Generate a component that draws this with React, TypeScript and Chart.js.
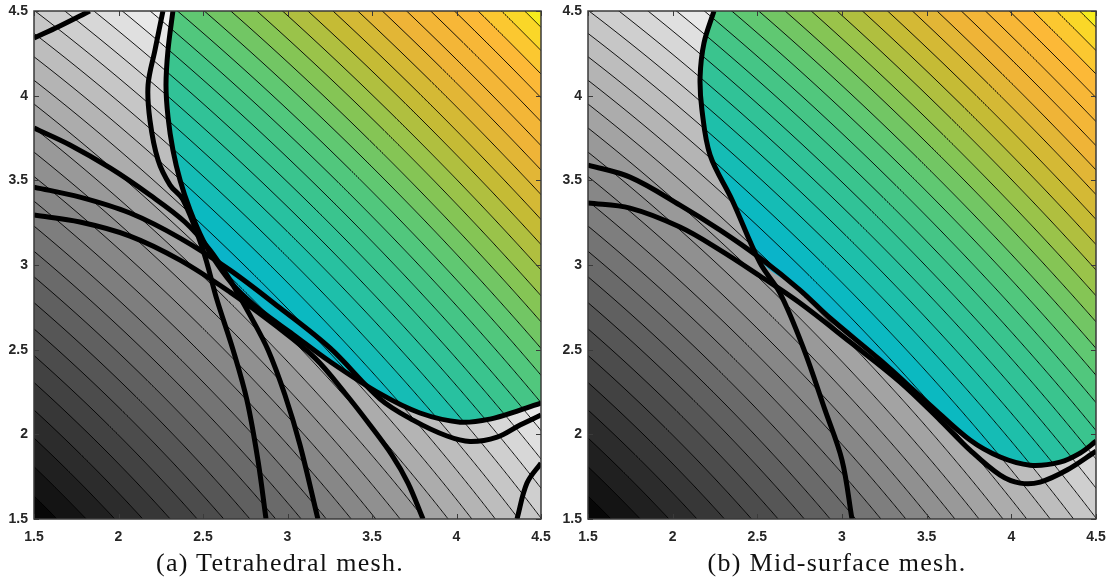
import React, { useEffect, useRef } from "react";
import { Chart, registerables } from "chart.js";

Chart.register(...registerables);

// ---------- axes ----------
const axisMin = 1.5;
const axisMax = 4.5;
const tickValues = [1.5, 2, 2.5, 3, 3.5, 4, 4.5];

// ---------- objective field (filled contours), f = x^p + y^p ----------
const fieldExponent = 1.25;
const fieldMin = 3.32;
const fieldMax = 13.108;
const grayWhiteLevel = 9.544;
const grayGamma = 0.85;
const contourLevels = [
  3.51, 3.758, 4.006, 4.254, 4.502, 4.75, 4.998, 5.246, 5.494, 5.742, 5.99,
  6.238, 6.486, 6.734, 6.982, 7.23, 7.478, 7.726, 7.974, 8.222, 8.47, 8.718,
  8.966, 9.214, 9.462, 9.71, 9.958, 10.206, 10.454, 10.702, 10.95, 11.198,
  11.446, 11.694, 11.942, 12.19, 12.438, 12.686, 12.934,
];
// parula-like colour stops: [t, r, g, b]
const colorStops = [
  [0.0, 53, 42, 135],
  [0.2, 20, 120, 220],
  [0.3, 20, 150, 225],
  [0.36, 16, 168, 216],
  [0.43, 8, 184, 196],
  [0.5, 35, 192, 165],
  [0.57, 60, 196, 140],
  [0.63, 88, 200, 120],
  [0.7, 140, 197, 80],
  [0.77, 200, 187, 52],
  [0.84, 238, 180, 55],
  [0.92, 252, 185, 55],
  [0.97, 250, 215, 40],
  [1.0, 245, 245, 25],
];

// ---------- (a) Tetrahedral mesh: constraint curves ----------
const leftCurveA = [[1.5, 4.34], [1.65, 4.41], [1.83, 4.5]];
const leftCurveB = [
  [2.322, 4.5], [2.293, 4.27], [2.281, 4.063], [2.293, 3.874], [2.322, 3.679],
  [2.364, 3.502], [2.423, 3.325], [2.5, 3.147], [2.589, 2.999], [2.689, 2.87],
  [2.837, 2.734], [3.033, 2.59], [3.251, 2.43], [3.547, 2.24], [3.784, 2.126],
  [4.021, 2.072], [4.198, 2.09], [4.376, 2.143], [4.5, 2.185],
];
const leftCurveC = [
  [2.263, 4.5], [2.216, 4.27], [2.175, 4.063], [2.186, 3.856], [2.234, 3.62],
  [2.305, 3.472], [2.382, 3.384], [2.5, 3.088], [2.583, 2.793], [2.678, 2.498],
  [2.76, 2.202], [2.825, 1.848], [2.873, 1.5],
];
const leftCurveE = [
  [1.5, 3.809], [1.713, 3.709], [1.95, 3.573], [2.186, 3.413], [2.393, 3.254],
  [2.541, 3.088], [2.66, 2.911], [2.778, 2.704], [2.885, 2.498], [2.985, 2.232],
  [3.074, 1.937], [3.18, 1.5],
];
const leftCurveF = [
  [1.5, 3.46], [1.772, 3.401], [2.068, 3.307], [2.364, 3.159], [2.66, 2.97],
  [2.956, 2.746], [3.251, 2.51], [3.547, 2.21], [3.743, 2.084], [3.944, 1.99],
  [4.08, 1.958], [4.24, 1.984], [4.376, 2.055], [4.5, 2.114],
];
const leftCurveG = [
  [1.5, 3.295], [1.772, 3.254], [2.068, 3.171], [2.364, 3.029], [2.66, 2.84],
  [2.926, 2.645], [3.163, 2.45], [3.34, 2.244], [3.488, 2.055], [3.618, 1.877],
  [3.713, 1.712], [3.802, 1.5],
];
const leftCurveI = [[4.5, 1.83], [4.417, 1.712], [4.358, 1.5]];
const leftRegion = leftCurveB;

// ---------- (b) Mid-surface mesh: constraint curves ----------
const rightCurveP = [
  [2.244, 4.5], [2.185, 4.311], [2.162, 4.11], [2.173, 3.915], [2.221, 3.649],
  [2.351, 3.384], [2.516, 3.012], [2.634, 2.834], [2.77, 2.515], [2.9, 2.143],
  [3.0, 1.848], [3.059, 1.5],
];
const rightCurveQ = [
  [1.5, 3.59], [1.748, 3.519], [2.043, 3.354], [2.28, 3.206], [2.516, 3.041],
  [2.752, 2.852], [2.929, 2.687], [3.225, 2.439], [3.52, 2.173], [3.756, 1.966],
  [3.934, 1.866], [4.111, 1.818], [4.288, 1.836], [4.406, 1.889], [4.501, 1.96],
];
const rightCurveR = [
  [1.5, 3.366], [1.748, 3.336], [2.043, 3.224], [2.28, 3.088], [2.516, 2.935],
  [2.752, 2.775], [3.048, 2.545], [3.343, 2.309], [3.579, 2.084], [3.756, 1.907],
  [3.934, 1.759], [4.052, 1.712], [4.17, 1.718], [4.329, 1.789], [4.501, 1.901],
];
const rightRegion = [
  [2.244, 4.5], [2.185, 4.311], [2.162, 4.11], [2.173, 3.915], [2.221, 3.649],
  [2.351, 3.384], [2.516, 3.03], [2.752, 2.852], [2.929, 2.687], [3.225, 2.439],
  [3.52, 2.173], [3.756, 1.966], [3.934, 1.866], [4.111, 1.818], [4.288, 1.836],
  [4.406, 1.889], [4.501, 1.96],
];

const captionLeft = "(a) Tetrahedral mesh.";
const captionRight = "(b) Mid-surface mesh.";

// ---------- helpers ----------
function field(x: number, y: number) {
  return Math.pow(x, fieldExponent) + Math.pow(y, fieldExponent);
}
const bandEdges = [fieldMin, ...contourLevels, fieldMax];
function bandMid(f: number) {
  let k = 0;
  while (k < contourLevels.length && f >= contourLevels[k]) k++;
  return (bandEdges[k] + bandEdges[k + 1]) / 2;
}
function cmap(t: number) {
  t = Math.max(0, Math.min(1, t));
  for (let i = 1; i < colorStops.length; i++) {
    const a = colorStops[i - 1];
    const b = colorStops[i];
    if (t <= b[0]) {
      const u = (t - a[0]) / (b[0] - a[0]);
      return [a[1] + (b[1] - a[1]) * u, a[2] + (b[2] - a[2]) * u, a[3] + (b[3] - a[3]) * u];
    }
  }
  const l = colorStops[colorStops.length - 1];
  return [l[1], l[2], l[3]];
}

function smoothPath(ctx: CanvasRenderingContext2D, pts: number[][]) {
  const n = pts.length;
  ctx.moveTo(pts[0][0], pts[0][1]);
  for (let i = 0; i < n - 1; i++) {
    const p0 = pts[Math.max(0, i - 1)];
    const p1 = pts[i];
    const p2 = pts[i + 1];
    const p3 = pts[Math.min(n - 1, i + 2)];
    const c1x = p1[0] + (p2[0] - p0[0]) / 6;
    const c1y = p1[1] + (p2[1] - p0[1]) / 6;
    const c2x = p2[0] - (p3[0] - p1[0]) / 6;
    const c2y = p2[1] - (p3[1] - p1[1]) / 6;
    ctx.bezierCurveTo(c1x, c1y, c2x, c2y, p2[0], p2[1]);
  }
}

function makeFieldPlugin(region: number[][]) {
  return {
    id: "fieldPlugin",
    beforeDatasetsDraw(chart: any) {
      const { ctx, chartArea, scales } = chart;
      const xs = scales.x;
      const ys = scales.y;
      const left = Math.round(chartArea.left);
      const top = Math.round(chartArea.top);
      const w = Math.round(chartArea.right) - left;
      const h = Math.round(chartArea.bottom) - top;
      const gC = document.createElement("canvas");
      const cC = document.createElement("canvas");
      gC.width = cC.width = w;
      gC.height = cC.height = h;
      const gctx = gC.getContext("2d")!;
      const cctx = cC.getContext("2d")!;
      const gi = gctx.createImageData(w, h);
      const ci = cctx.createImageData(w, h);
      for (let j = 0; j < h; j++) {
        const y = ys.getValueForPixel(top + j + 0.5);
        for (let i = 0; i < w; i++) {
          const x = xs.getValueForPixel(left + i + 0.5);
          const m = bandMid(field(x, y));
          const tg = Math.max(0, Math.min(1, (m - fieldMin) / (grayWhiteLevel - fieldMin)));
          const gv = Math.round(Math.pow(tg, grayGamma) * 248);
          const o = (j * w + i) * 4;
          gi.data[o] = gv;
          gi.data[o + 1] = gv;
          gi.data[o + 2] = gv;
          gi.data[o + 3] = 255;
          const c = cmap((m - fieldMin) / (fieldMax - fieldMin));
          ci.data[o] = c[0];
          ci.data[o + 1] = c[1];
          ci.data[o + 2] = c[2];
          ci.data[o + 3] = 255;
        }
      }
      gctx.putImageData(gi, 0, 0);
      cctx.putImageData(ci, 0, 0);
      ctx.save();
      ctx.drawImage(gC, left, top);
      // coloured (feasible) region
      const pts = region.map((p) => [xs.getPixelForValue(p[0]), ys.getPixelForValue(p[1])]);
      ctx.beginPath();
      smoothPath(ctx, pts);
      const last = pts[pts.length - 1];
      ctx.lineTo(last[0] + 20, last[1]);
      ctx.lineTo(last[0] + 20, top - 20);
      ctx.lineTo(pts[0][0], top - 20);
      ctx.closePath();
      ctx.save();
      ctx.clip();
      ctx.drawImage(cC, left, top);
      ctx.restore();
      // contour lines
      ctx.beginPath();
      ctx.rect(left, top, w, h);
      ctx.clip();
      ctx.strokeStyle = "rgba(0,0,0,0.9)";
      ctx.lineWidth = 1;
      for (const L of contourLevels) {
        ctx.beginPath();
        let started = false;
        for (let px = left - 2; px <= left + w + 2; px += 1) {
          const x = xs.getValueForPixel(px);
          const r = L - Math.pow(x, fieldExponent);
          if (r <= 0) break;
          const y = Math.pow(r, 1 / fieldExponent);
          const py = ys.getPixelForValue(y);
          if (!started) {
            ctx.moveTo(px, py);
            started = true;
          } else ctx.lineTo(px, py);
        }
        ctx.stroke();
      }
      ctx.restore();
    },
    afterDraw(chart: any) {
      const { ctx, chartArea, scales } = chart;
      const { left, top, right, bottom } = chartArea;
      ctx.save();
      ctx.strokeStyle = "#3a3a3a";
      ctx.lineWidth = 1;
      for (const v of tickValues) {
        const px = Math.round(scales.x.getPixelForValue(v)) + 0.5;
        const py = Math.round(scales.y.getPixelForValue(v)) + 0.5;
        ctx.beginPath();
        ctx.moveTo(px, bottom);
        ctx.lineTo(px, bottom - 5);
        ctx.moveTo(px, top);
        ctx.lineTo(px, top + 5);
        ctx.moveTo(left, py);
        ctx.lineTo(left + 5, py);
        ctx.moveTo(right, py);
        ctx.lineTo(right - 5, py);
        ctx.stroke();
      }
      ctx.lineWidth = 1.5;
      ctx.strokeRect(left, top, right - left, bottom - top);
      ctx.restore();
    },
  };
}

const tickFont = { family: "'Liberation Sans', Arial, sans-serif", size: 14, weight: "bold" as const };

function Panel(props: {
  curves: number[][][];
  region: number[][];
  x: number;
  width: number;
  axisWidth: number;
  padRight: number;
}) {
  const ref = useRef<HTMLCanvasElement>(null);
  useEffect(() => {
    const chart = new Chart(ref.current!, {
      type: "scatter",
      data: {
        datasets: props.curves.map((c) => ({
          data: c.map((p) => ({ x: p[0], y: p[1] })),
          showLine: true,
          borderColor: "#000",
          borderWidth: 5,
          pointRadius: 0,
          tension: 0.35,
          fill: false,
          clip: 0,
        })),
      },
      options: {
        responsive: false,
        animation: false,
        events: [],
        layout: { padding: { left: 0, top: 11, right: props.padRight, bottom: 0 } },
        plugins: { legend: { display: false }, tooltip: { enabled: false } },
        scales: {
          x: {
            type: "linear",
            min: axisMin,
            max: axisMax,
            grid: { display: false, drawTicks: false },
            border: { display: false },
            afterBuildTicks: (s: any) => {
              s.ticks = tickValues.map((v) => ({ value: v }));
            },
            afterFit: (s: any) => {
              s.height = 41;
              s.paddingLeft = 0;
              s.paddingRight = 0;
            },
            ticks: {
              font: tickFont,
              color: "#262626",
              padding: 10,
              maxRotation: 0,
              autoSkip: false,
              callback: (v: any) => String(v),
            },
          },
          y: {
            type: "linear",
            min: axisMin,
            max: axisMax,
            grid: { display: false, drawTicks: false },
            border: { display: false },
            afterBuildTicks: (s: any) => {
              s.ticks = tickValues.map((v) => ({ value: v }));
            },
            afterFit: (s: any) => {
              s.width = props.axisWidth;
              s.paddingTop = 0;
              s.paddingBottom = 0;
            },
            ticks: {
              font: tickFont,
              color: "#262626",
              padding: 6,
              autoSkip: false,
              callback: (v: any) => String(v),
            },
          },
        },
      },
      plugins: [makeFieldPlugin(props.region)],
    } as any);
    return () => chart.destroy();
  }, []);
  return (
    <canvas
      ref={ref}
      width={props.width}
      height={560}
      style={{ position: "absolute", left: props.x, top: 0, width: props.width, height: 560 }}
    />
  );
}

const captionStyle: React.CSSProperties = {
  position: "absolute",
  top: 550,
  fontFamily: "'Liberation Serif', 'Times New Roman', serif",
  fontSize: 26,
  lineHeight: "26px",
  letterSpacing: "1.3px",
  color: "#111",
  whiteSpace: "nowrap",
  textAlign: "center",
  width: 400,
};

export default function App() {
  return (
    <div style={{ position: "absolute", left: 0, top: 0, width: 1111, height: 588, background: "#fff", overflow: "hidden" }}>
      <Panel
        curves={[leftCurveA, leftCurveC, leftCurveB, leftCurveE, leftCurveF, leftCurveG, leftCurveI]}
        region={leftRegion}
        x={0}
        width={555}
        axisWidth={34}
        padRight={14}
      />
      <Panel
        curves={[rightCurveP, rightCurveQ, rightCurveR]}
        region={rightRegion}
        x={555}
        width={556}
        axisWidth={33}
        padRight={15}
      />
      <div style={{ ...captionStyle, left: 280 - 200 }}>{captionLeft}</div>
      <div style={{ ...captionStyle, left: 837 - 200 }}>{captionRight}</div>
    </div>
  );
}
